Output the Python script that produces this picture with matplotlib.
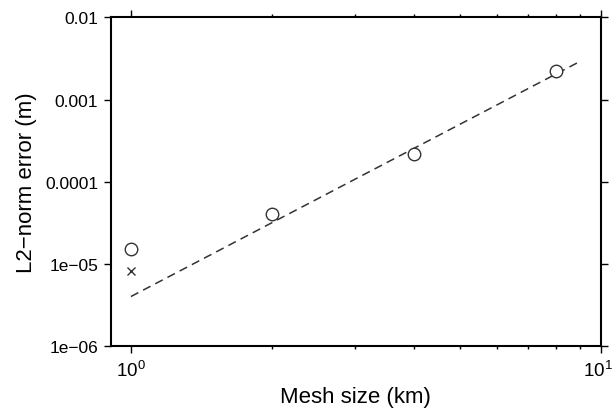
import numpy as np
import matplotlib.pyplot as plt
import matplotlib.transforms as mtransforms
from matplotlib.ticker import FixedLocator, NullLocator, FixedFormatter

plt.rcParams['font.family'] = ['Liberation Sans', 'DejaVu Sans']
plt.rcParams['mathtext.fontset'] = 'custom'
plt.rcParams['mathtext.rm'] = 'Liberation Sans'

# L2 error vs mesh size
mesh_km = [1, 2, 4, 8]
l2_err = [1.5e-5, 4.0e-5, 2.2e-4, 2.2e-3]
# extra run at 1 km
cross_x = [1]
cross_y = [8.3e-6]
# third order reference line
ref_x = [1, 9]
ref_y = [4.0e-6, 2.9e-3]

ytick_vals = [1e-6, 1e-5, 1e-4, 1e-3, 1e-2]
ytick_labels = ['1e\u221206', '1e\u221205', '0.0001', '0.001', '0.01']

fig = plt.figure(figsize=(6.14, 4.10), dpi=100)
ax = fig.add_axes([0.18, 0.1537, 0.799, 0.8012])

ax.plot(ref_x, ref_y, linestyle=(0, (5.5, 3.5)), color='#333333', lw=1.1)
ax.plot(mesh_km, l2_err, 'o', mfc='white', mec='#333333', ms=9, mew=1.0)
ax.plot(cross_x, cross_y, 'x', color='#333333', ms=6, mew=1.0)

ax.set_xscale('log')
ax.set_yscale('log')
ax.set_xlim(0.905, 10)
ax.set_ylim(1e-6, 1e-2)

ax.xaxis.set_major_locator(FixedLocator([1, 10]))
ax.xaxis.set_major_formatter(FixedFormatter([r'$\mathregular{10^0}$', r'$\mathregular{10^1}$']))
ax.xaxis.set_minor_locator(FixedLocator([2, 3, 4, 5, 6, 7, 8, 9]))
ax.yaxis.set_major_locator(FixedLocator(ytick_vals))
ax.yaxis.set_major_formatter(FixedFormatter(ytick_labels))
ax.yaxis.set_minor_locator(NullLocator())

for s in ax.spines.values():
    s.set_linewidth(1.5)
ax.tick_params(which='major', direction='out', length=5, width=1.0,
               labelsize=12.5, top=True, right=True, pad=4)
ax.tick_params(axis='x', which='major', labelsize=13.5, pad=5)
ax.tick_params(which='minor', direction='out', length=2.5, width=1.0,
               top=True, bottom=True)

# keep the 10^1 label inside the figure edge
lbl = ax.get_xticklabels()[-1]
lbl.set_transform(lbl.get_transform() + mtransforms.ScaledTranslation(-2 / 72, 0, fig.dpi_scale_trans))

ax.set_xlabel('Mesh size (km)', fontsize=16, labelpad=4)
ax.set_ylabel('L2\u2212norm error (m)', fontsize=16, labelpad=6)

fig.savefig('out.png', dpi=100)
